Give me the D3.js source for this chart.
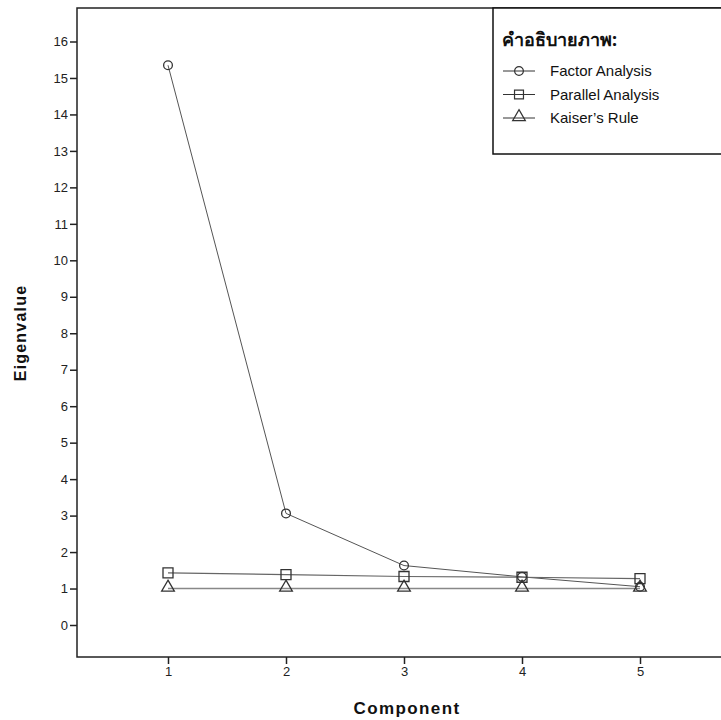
<!DOCTYPE html>
<html>
<head>
<meta charset="utf-8">
<script src="https://cdn.jsdelivr.net/npm/d3@7"></script>
<style>
  body { margin: 0; background: #fff; }
  svg { display: block; font-family: "Liberation Sans", Arial, sans-serif; }
</style>
</head>
<body>
<svg id="chart"></svg>
<script>
const components = [1, 2, 3, 4, 5];
const factorAnalysis = [15.35, 3.06, 1.63, 1.32, 1.05];
const parallelAnalysis = [1.43, 1.38, 1.33, 1.31, 1.27];
const kaiserRule = [1, 1, 1, 1, 1];
const yTicks = [0, 1, 2, 3, 4, 5, 6, 7, 8, 9, 10, 11, 12, 13, 14, 15, 16];
const legendTitle = "คำอธิบายภาพ:";
const seriesNames = ["Factor Analysis", "Parallel Analysis", "Kaiser’s Rule"];

const W = 721, H = 720;
const svg = d3.select("#chart").attr("width", W).attr("height", H);

// plot frame (right side runs off the picture)
const plotLeft = 77, plotTop = 8, plotBottom = 657, plotRight = 724;

const x = d3.scaleLinear().domain([1, 5]).range([168, 640]);
const y = d3.scaleLinear().domain([0, 16]).range([625, 41.5]);

svg.append("rect")
    .attr("x", plotLeft).attr("y", plotTop)
    .attr("width", plotRight - plotLeft).attr("height", plotBottom - plotTop)
    .attr("fill", "none").attr("stroke", "#222").attr("stroke-width", 1.5);

// y axis
const yAxis = svg.append("g")
    .attr("transform", `translate(${plotLeft},0)`)
    .call(d3.axisLeft(y).tickValues(yTicks).tickSize(7).tickPadding(2).tickFormat(d3.format("d")));
yAxis.select(".domain").remove();
yAxis.selectAll(".tick line").attr("stroke", "#222").attr("stroke-width", 1.5);
yAxis.selectAll(".tick text").attr("fill", "#222").style("font-size", "13px")
    .style("font-family", "Liberation Sans, Arial, sans-serif");

// x axis
const xAxis = svg.append("g")
    .attr("transform", `translate(0,${plotBottom})`)
    .call(d3.axisBottom(x).tickValues(components).tickSize(7).tickPadding(3).tickFormat(d3.format("d")));
xAxis.select(".domain").remove();
xAxis.selectAll(".tick line").attr("stroke", "#222").attr("stroke-width", 1.5);
xAxis.selectAll(".tick text").attr("fill", "#222").style("font-size", "13px")
    .style("font-family", "Liberation Sans, Arial, sans-serif");

// axis titles
svg.append("text")
    .attr("x", 407).attr("y", 714)
    .attr("text-anchor", "middle")
    .style("font-size", "17px").style("font-weight", "bold").attr("fill", "#111")
    .style("letter-spacing", "1.4px")
    .text("Component");

svg.append("text")
    .attr("transform", "translate(26,333) rotate(-90)")
    .attr("text-anchor", "middle")
    .style("font-size", "16px").style("font-weight", "bold").attr("fill", "#111")
    .style("letter-spacing", "1.2px")
    .text("Eigenvalue");

const line = d3.line().x((d, i) => x(components[i])).y(d => y(d));

const series = [
    { name: seriesNames[0], values: factorAnalysis, symbol: d3.symbolCircle, size: 60, color: "#555", width: 1 },
    { name: seriesNames[1], values: parallelAnalysis, symbol: d3.symbolSquare, size: 100, color: "#666", width: 1.2 },
    { name: seriesNames[2], values: kaiserRule, symbol: d3.symbolTriangle, size: 70, color: "#888", width: 1.5 }
];

series.forEach(s => {
    svg.append("path")
        .attr("d", line(s.values))
        .attr("fill", "none")
        .attr("stroke", s.color)
        .attr("stroke-width", s.width);
});

series.forEach(s => {
    svg.append("g").selectAll("path")
        .data(s.values)
        .join("path")
        .attr("d", d3.symbol().type(s.symbol).size(s.size))
        .attr("transform", (d, i) => `translate(${x(components[i])},${y(d) - (s.symbol === d3.symbolTriangle ? 1 : 0)})`)
        .attr("fill", "none")
        .attr("stroke", "#333")
        .attr("stroke-width", 1.3);
});

// legend
const lg = svg.append("g");
lg.append("rect")
    .attr("x", 493).attr("y", 8).attr("width", 240).attr("height", 146)
    .attr("fill", "#fff").attr("stroke", "#111").attr("stroke-width", 1.5);
lg.append("text")
    .attr("x", 502).attr("y", 46)
    .style("font-size", "18px").style("font-weight", "bold").attr("fill", "#111")
    .style("font-family", "Noto Sans, Liberation Sans, sans-serif")
    .text(legendTitle);

series.forEach((s, i) => {
    const cy = 71 + i * 23.5;
    lg.append("line")
        .attr("x1", 503).attr("x2", 535).attr("y1", cy).attr("y2", cy)
        .attr("stroke", "#333").attr("stroke-width", 1);
    lg.append("path")
        .attr("d", d3.symbol().type(s.symbol).size(s.symbol === d3.symbolSquare ? 80 : s.size))
        .attr("transform", `translate(519,${cy - (s.symbol === d3.symbolTriangle ? 1 : 0)})`)
        .attr("fill", "none").attr("stroke", "#333").attr("stroke-width", 1.2);
    lg.append("text")
        .attr("x", 550).attr("y", cy + 5)
        .style("font-size", "15px").attr("fill", "#111")
        .text(s.name);
});
</script>
</body>
</html>
